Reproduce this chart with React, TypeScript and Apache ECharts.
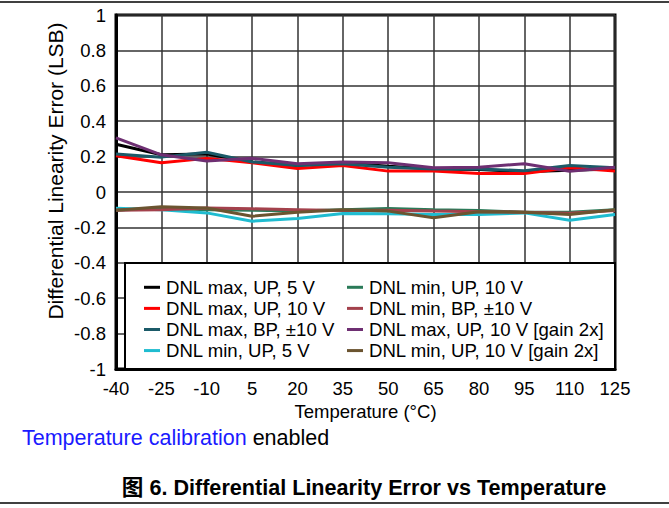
import React, { useEffect, useRef } from "react";
import * as echarts from "echarts";

const temperatures = ["-40", "-25", "-10", "5", "20", "35", "50", "65", "80", "95", "110", "125"];

const seriesNames = [
  "DNL max, UP, 5 V",
  "DNL max, UP, 10 V",
  "DNL max, BP, ±10 V",
  "DNL min, UP, 5 V",
  "DNL min, UP, 10 V",
  "DNL min, BP, ±10 V",
  "DNL max, UP, 10 V [gain 2x]",
  "DNL min, UP, 10 V [gain 2x]",
];

const maxUp5 = [0.27, 0.21, 0.215, 0.17, 0.15, 0.165, 0.146, 0.13, 0.127, 0.114, 0.123, 0.13];
const maxUp10 = [0.205, 0.165, 0.19, 0.165, 0.133, 0.15, 0.118, 0.118, 0.105, 0.105, 0.137, 0.118];
const maxBp10 = [0.215, 0.197, 0.225, 0.17, 0.15, 0.16, 0.14, 0.13, 0.13, 0.12, 0.15, 0.137];
const minUp5 = [-0.092, -0.1, -0.118, -0.165, -0.15, -0.122, -0.123, -0.127, -0.127, -0.118, -0.16, -0.127];
const minUp10 = [-0.103, -0.09, -0.1, -0.103, -0.108, -0.1, -0.093, -0.1, -0.105, -0.114, -0.115, -0.1];
const minBp10 = [-0.103, -0.1, -0.09, -0.095, -0.1, -0.105, -0.103, -0.108, -0.112, -0.114, -0.12, -0.105];
const maxUp10Gain2 = [0.306, 0.21, 0.175, 0.19, 0.16, 0.17, 0.165, 0.137, 0.14, 0.16, 0.117, 0.14];
const minUp10Gain2 = [-0.103, -0.083, -0.09, -0.137, -0.114, -0.1, -0.108, -0.146, -0.112, -0.114, -0.127, -0.1];

const seriesValues = [maxUp5, maxUp10, maxBp10, minUp5, minUp10, minBp10, maxUp10Gain2, minUp10Gain2];
const seriesColors = ["#000000", "#ff0000", "#1b5a68", "#1fbcd0", "#2a7a58", "#a3414c", "#6e2f72", "#6b5430"];

const FONT = "'Liberation Sans', Arial, 'Noto Sans CJK SC', sans-serif";

export default function App() {
  const ref = useRef<HTMLDivElement>(null);
  useEffect(() => {
    document.body.style.margin = "0";
    const chart = echarts.init(ref.current!, undefined, { renderer: "svg" });
    const legendCommon = {
      orient: "vertical",
      icon: "rect",
      itemWidth: 16,
      itemHeight: 3,
      itemGap: 2.5,
      selectedMode: false,
      z: 5,
      textStyle: {
        fontFamily: FONT,
        fontSize: 18.6,
        color: "#000",
        lineHeight: 18,
        padding: [0, 0, 0, 1],
      },
    };
    chart.setOption({
      animation: false,
      backgroundColor: "#fff",
      textStyle: { fontFamily: FONT },
      grid: {
        left: 116,
        right: 54,
        top: 15,
        bottom: 139,
        show: true,
        borderColor: "#000",
        borderWidth: 3,
        containLabel: false,
      },
      xAxis: {
        type: "category",
        data: temperatures,
        boundaryGap: false,
        name: "Temperature (°C)",
        nameLocation: "middle",
        nameGap: 32,
        nameTextStyle: { fontFamily: FONT, fontSize: 18.5, color: "#000" },
        axisLine: { show: true, onZero: false, lineStyle: { color: "#000", width: 3 } },
        axisTick: { show: false },
        axisLabel: { fontFamily: FONT, fontSize: 18.5, color: "#000", margin: 10 },
        splitLine: { show: true, lineStyle: { color: "#333", width: 1.5 } },
      },
      yAxis: {
        type: "value",
        min: -1,
        max: 1,
        interval: 0.2,
        axisLine: { show: true, onZero: false, lineStyle: { color: "#000", width: 3 } },
        axisTick: { show: false },
        axisLabel: { fontFamily: FONT, fontSize: 18.5, color: "#000", margin: 10 },
        splitLine: { show: true, lineStyle: { color: "#333", width: 1.5 } },
      },
      legend: [
        { ...legendCommon, left: 139, top: 273, data: seriesNames.slice(0, 4) },
        { ...legendCommon, left: 342, top: 273, data: seriesNames.slice(4, 8) },
      ],
      graphic: [
        {
          type: "rect",
          z: 3,
          shape: { x: 125, y: 263, width: 490, height: 106 },
          style: { fill: "#fff", stroke: "#000", lineWidth: 2 },
        },
        {
          type: "line",
          z: 3,
          shape: { x1: 0, y1: 2, x2: 669, y2: 2 },
          style: { stroke: "#000", lineWidth: 1.5 },
        },
        {
          type: "line",
          z: 3,
          shape: { x1: 0, y1: 503, x2: 669, y2: 503 },
          style: { stroke: "#000", lineWidth: 1.5 },
        },
        {
          type: "text",
          z: 3,
          x: 55,
          y: 171,
          rotation: Math.PI / 2,
          style: {
            text: "Differential Linearity Error (LSB)",
            fontFamily: FONT,
            fontSize: 21,
            fill: "#000",
            align: "center",
            verticalAlign: "middle",
          },
        },
        {
          type: "text",
          z: 3,
          x: 22,
          y: 438,
          style: {
            text: "{b|Temperature calibration} {k|enabled}",
            fontFamily: FONT,
            fontSize: 21.5,
            verticalAlign: "middle",
            rich: {
              b: { fill: "#1a1aff", fontFamily: FONT, fontSize: 21.5 },
              k: { fill: "#000", fontFamily: FONT, fontSize: 21.5 },
            },
          },
        },
        {
          type: "text",
          z: 3,
          x: 364,
          y: 487,
          style: {
            text: "图 6. Differential Linearity Error vs Temperature",
            fontFamily: FONT,
            fontSize: 21.6,
            fontWeight: "bold",
            fill: "#000",
            align: "center",
            verticalAlign: "middle",
          },
        },
      ],
      series: seriesNames.map((name, i) => ({
        name,
        type: "line",
        data: seriesValues[i],
        symbol: "none",
        color: seriesColors[i],
        lineStyle: { color: seriesColors[i], width: 3 },
        z: 2,
      })),
    });
    return () => chart.dispose();
  }, []);
  return <div ref={ref} style={{ width: 669, height: 508 }} />;
}
